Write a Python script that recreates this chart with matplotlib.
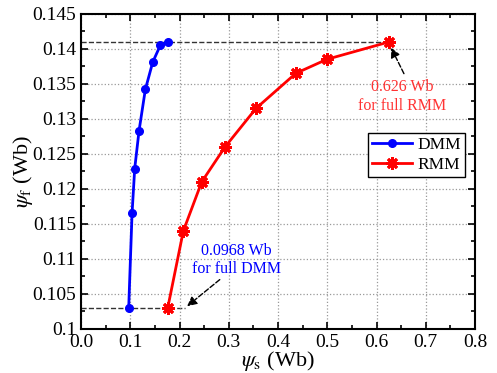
import matplotlib.pyplot as plt
from matplotlib.ticker import MultipleLocator, FormatStrFormatter
import numpy as np

plt.rcParams['font.family'] = ['Liberation Serif', 'DejaVu Serif']
plt.rcParams['mathtext.fontset'] = 'stix'

# flux linkage data
dmm_psi_s = [0.0968, 0.1036, 0.109, 0.1178, 0.1306, 0.1456, 0.161, 0.176]
dmm_psi_f = [0.103, 0.1165, 0.1229, 0.1283, 0.1342, 0.1381, 0.1405, 0.141]

rmm_psi_s = [0.176, 0.2077, 0.245, 0.2924, 0.3553, 0.436, 0.499, 0.626]
rmm_psi_f = [0.103, 0.114, 0.121, 0.126, 0.1315, 0.1365, 0.1385, 0.141]

fig = plt.figure(figsize=(4.97, 3.73), dpi=100)
ax = fig.add_axes([0.163, 0.118, 0.793, 0.845])

# reference dashed lines
ax.plot([0, rmm_psi_s[-1]], [rmm_psi_f[-1]] * 2, '--', color='#333333', lw=1.0, zorder=1)
ax.plot([0, 0.211], [dmm_psi_f[0]] * 2, '--', color='#333333', lw=1.0, zorder=1)

ax.plot(dmm_psi_s, dmm_psi_f, '-o', color='blue', lw=2, ms=5.5, label='DMM', zorder=3)
ax.plot(rmm_psi_s, rmm_psi_f, '-', color='red', lw=2, marker=(8, 2, 0), ms=9,
        mew=2, label='RMM', zorder=3)

# annotations
ax.annotate('', xy=(0.627, 0.1405), xytext=(0.658, 0.1361),
            arrowprops=dict(arrowstyle='-|>', ls='--', color='black', lw=1,
                            mutation_scale=14))
ax.text(0.652, 0.1345, '0.626 Wb', color='#ff3333', fontsize=11.5, ha='center', va='center')
ax.text(0.652, 0.1319, 'for full RMM', color='#ff3333', fontsize=11.5, ha='center', va='center')

ax.annotate('', xy=(0.211, 0.103), xytext=(0.286, 0.1073),
            arrowprops=dict(arrowstyle='-|>', ls='--', color='black', lw=1,
                            mutation_scale=14))
ax.text(0.316, 0.1111, '0.0968 Wb', color='blue', fontsize=11.5, ha='center', va='center')
ax.text(0.316, 0.1086, 'for full DMM', color='blue', fontsize=11.5, ha='center', va='center')

ax.set_xlim(0, 0.8)
ax.set_ylim(0.1, 0.145)
ax.xaxis.set_major_locator(MultipleLocator(0.1))
ax.xaxis.set_minor_locator(MultipleLocator(0.05))
ax.yaxis.set_major_locator(MultipleLocator(0.005))
ax.yaxis.set_minor_locator(MultipleLocator(0.0025))
ax.xaxis.set_major_formatter(FormatStrFormatter('%.1f'))
ax.yaxis.set_major_formatter(FormatStrFormatter('%g'))
ax.tick_params(which='both', direction='in', top=True, right=True, labelsize=14, width=1.2)
ax.tick_params(which='major', length=5)
ax.tick_params(which='minor', length=3)
for s in ax.spines.values():
    s.set_linewidth(1.5)
ax.grid(True, which='major', ls=':', color='#999999', lw=0.9)

ax.set_xlabel(r'$\psi_{\rm s}$ (Wb)', fontsize=16, labelpad=-1)
ax.set_ylabel(r'$\psi_{\rm f}$ (Wb)', fontsize=16, labelpad=-2)

leg = ax.legend(loc='upper right', bbox_to_anchor=(0.975, 0.622), fontsize=12.5,
                fancybox=False, edgecolor='black', framealpha=1, handlelength=2.3,
                handletextpad=0.3, borderpad=0.25, labelspacing=0.2, borderaxespad=0)
leg.get_frame().set_linewidth(1.0)

fig.savefig('out.png', dpi=100)
